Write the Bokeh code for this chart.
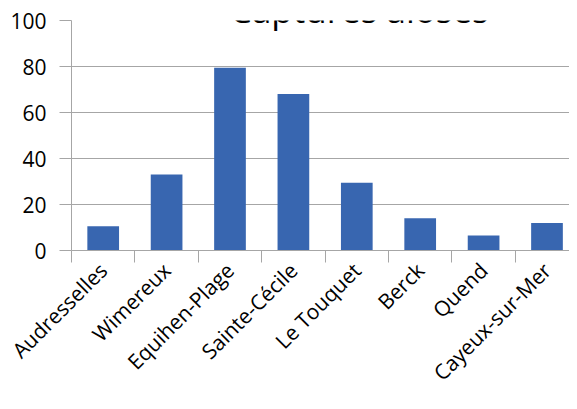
import numpy as np
from bokeh.plotting import figure
from bokeh.models import Range1d, FixedTicker, Label, ColumnDataSource
from bokeh.embed import file_html
from bokeh.resources import INLINE

categories = ["Audresselles", "Wimereux", "Equihen-Plage", "Sainte-Cécile",
              "Le Touquet", "Berck", "Quend", "Cayeux-sur-Mer"]
captures = [10.5, 33, 79.5, 68, 29.5, 14, 6.5, 12]
y_ticks = [0, 20, 40, 60, 80, 100]
title_text = "Captures aloses"

FONT = "Open Sans"
GREY = "#a6a6a6"
BAR = "#3866b0"

n = len(categories)
centers = [i + 0.5 for i in range(n)]
bounds = [i for i in range(n + 1)]

src = ColumnDataSource(data=dict(x=centers, top=captures))

p = figure(width=569, height=401, output_backend="svg", toolbar_location=None,
           x_range=Range1d(0, 7.855), y_range=Range1d(0, 100),
           min_border_left=71, min_border_right=0, min_border_top=20,
           min_border_bottom=151)
p.outline_line_color = None
p.background_fill_color = "white"
p.border_fill_color = "white"

p.vbar(x="x", top="top", width=0.5, source=src, color=BAR, line_color=None)

# x axis: labels at category centres, tick marks at category boundaries
xa = p.xaxis[0]
xa.ticker = FixedTicker(ticks=centers, minor_ticks=bounds)
xa.major_label_overrides = {c: lab for c, lab in zip(centers, categories)}
xa.major_tick_line_color = None
xa.major_tick_in = 0
xa.major_tick_out = 6
xa.minor_tick_line_color = GREY
xa.minor_tick_in = 0
xa.minor_tick_out = 12
xa.axis_line_color = GREY
xa.major_label_orientation = np.pi / 4
xa.major_label_text_font = FONT
xa.major_label_text_font_size = "21px"
xa.major_label_text_color = "black"
xa.major_label_standoff = 4

# y axis
ya = p.yaxis[0]
ya.ticker = FixedTicker(ticks=y_ticks)
ya.axis_line_color = GREY
ya.major_tick_line_color = GREY
ya.major_tick_in = 0
ya.major_tick_out = 12
ya.minor_tick_line_color = None
ya.major_label_text_font = FONT
ya.major_label_text_font_size = "21px"
ya.major_label_text_color = "black"
ya.major_label_standoff = 13

p.xgrid.grid_line_color = None
p.ygrid.ticker = FixedTicker(ticks=y_ticks)
p.ygrid.grid_line_color = GREY
p.ygrid.grid_line_width = 1

p.add_layout(Label(x=4.54, y=104.8, text=title_text, text_align="center",
                   text_baseline="alphabetic", text_font=FONT,
                   text_font_size="35px", text_color="black"))

open("out.html", "w").write(file_html(p, INLINE))
